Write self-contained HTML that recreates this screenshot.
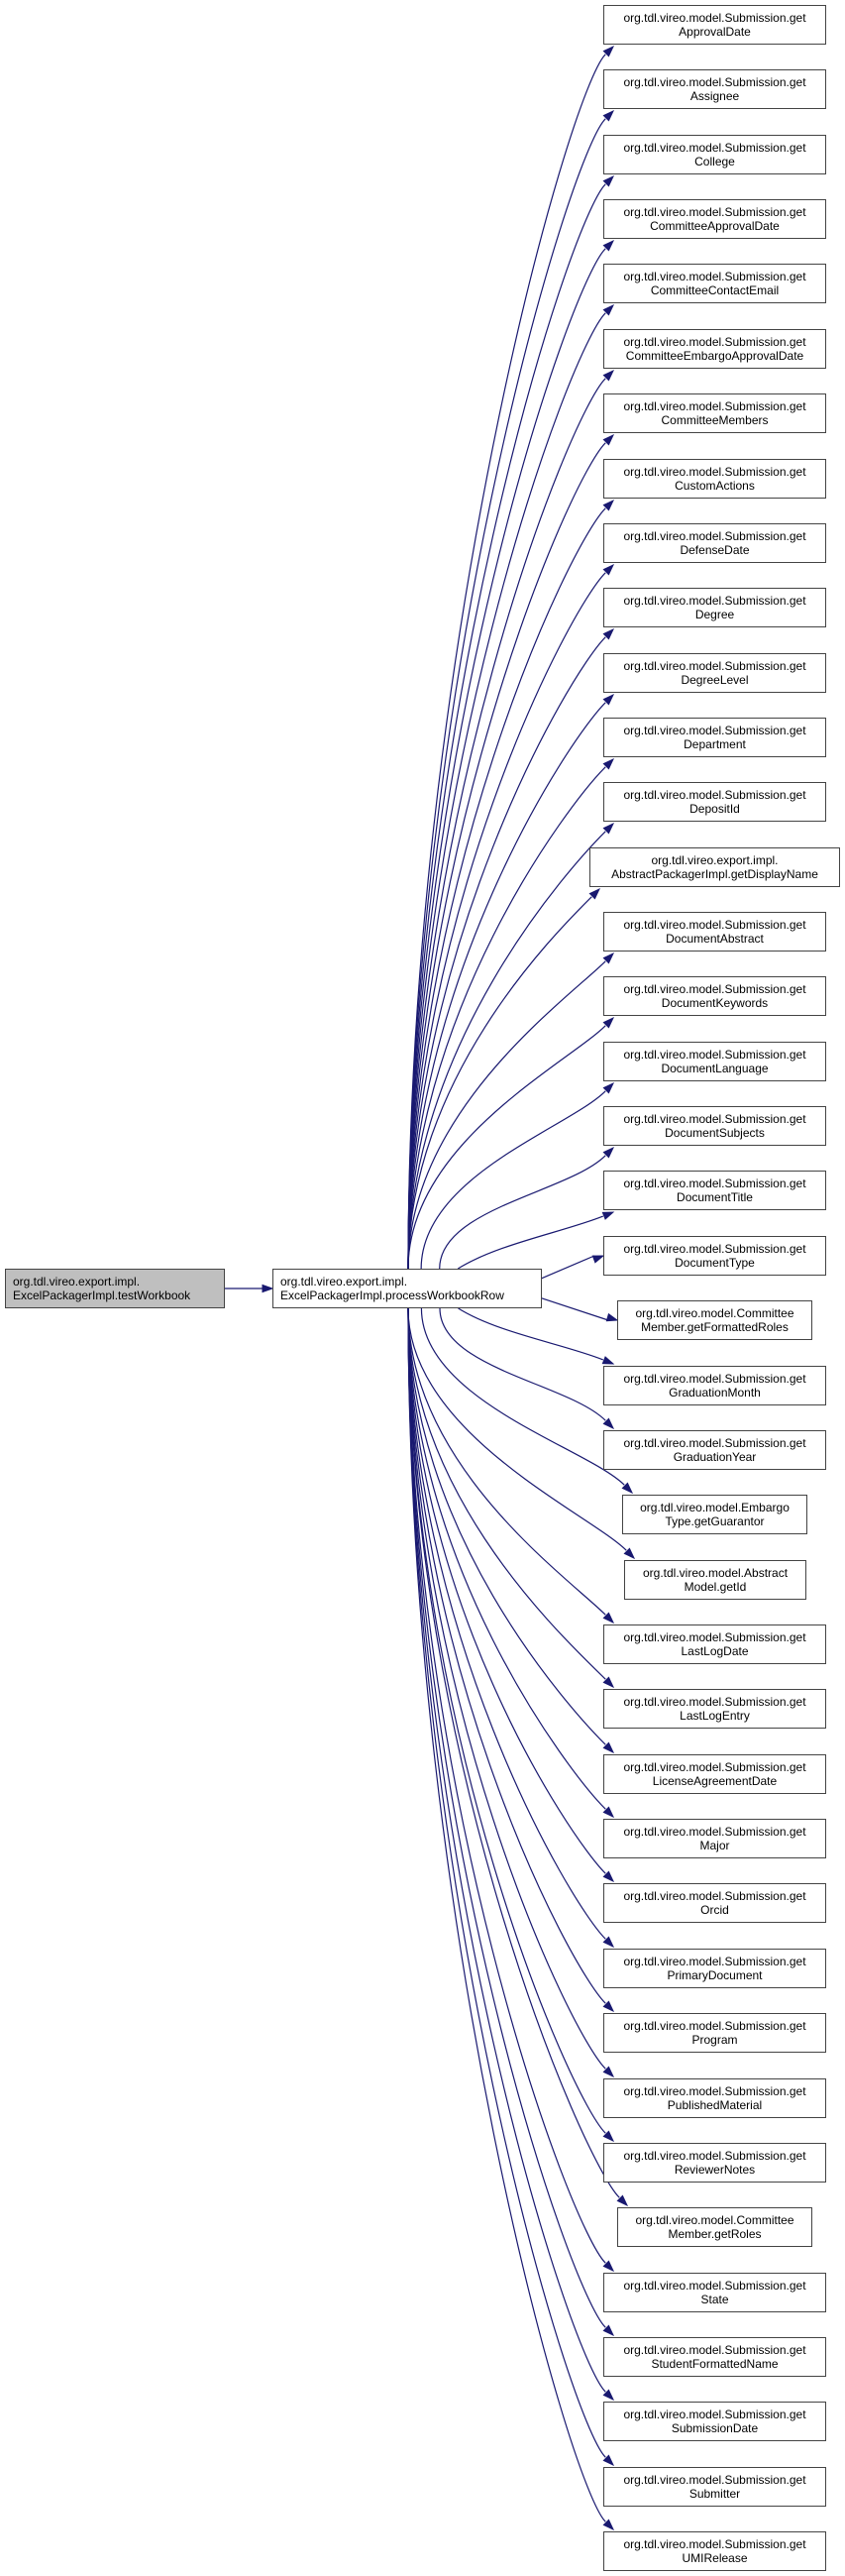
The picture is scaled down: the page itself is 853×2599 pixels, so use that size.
<!DOCTYPE html>
<html><head><meta charset="utf-8"><style>
body{margin:0;background:#fff;}
#c{position:relative;width:853px;height:2599px;overflow:hidden;}
.b{position:absolute;box-sizing:border-box;height:40px;border:1px solid #444;background:#fff;font-family:"Liberation Sans",Arial,sans-serif;font-size:12px;line-height:14px;text-align:center;padding-top:5px;color:#000;white-space:nowrap;}
.l{text-align:left;padding-left:7px;}
svg{position:absolute;left:0;top:0;}
</style></head><body><div id="c">
<svg id="s" width="853" height="2599"></svg>
<div class="b l" style="left:5px;top:1280px;width:222px;background:#bfbfbf;">org.tdl.vireo.export.impl.<br>ExcelPackagerImpl.testWorkbook</div>
<div class="b l" style="left:275px;top:1280px;width:272px;">org.tdl.vireo.export.impl.<br>ExcelPackagerImpl.processWorkbookRow</div>
<div id="boxes">
<div class="b">org.tdl.vireo.model.Submission.get<br>ApprovalDate</div>
<div class="b">org.tdl.vireo.model.Submission.get<br>Assignee</div>
<div class="b">org.tdl.vireo.model.Submission.get<br>College</div>
<div class="b">org.tdl.vireo.model.Submission.get<br>CommitteeApprovalDate</div>
<div class="b">org.tdl.vireo.model.Submission.get<br>CommitteeContactEmail</div>
<div class="b">org.tdl.vireo.model.Submission.get<br>CommitteeEmbargoApprovalDate</div>
<div class="b">org.tdl.vireo.model.Submission.get<br>CommitteeMembers</div>
<div class="b">org.tdl.vireo.model.Submission.get<br>CustomActions</div>
<div class="b">org.tdl.vireo.model.Submission.get<br>DefenseDate</div>
<div class="b">org.tdl.vireo.model.Submission.get<br>Degree</div>
<div class="b">org.tdl.vireo.model.Submission.get<br>DegreeLevel</div>
<div class="b">org.tdl.vireo.model.Submission.get<br>Department</div>
<div class="b">org.tdl.vireo.model.Submission.get<br>DepositId</div>
<div class="b">org.tdl.vireo.export.impl.<br>AbstractPackagerImpl.getDisplayName</div>
<div class="b">org.tdl.vireo.model.Submission.get<br>DocumentAbstract</div>
<div class="b">org.tdl.vireo.model.Submission.get<br>DocumentKeywords</div>
<div class="b">org.tdl.vireo.model.Submission.get<br>DocumentLanguage</div>
<div class="b">org.tdl.vireo.model.Submission.get<br>DocumentSubjects</div>
<div class="b">org.tdl.vireo.model.Submission.get<br>DocumentTitle</div>
<div class="b">org.tdl.vireo.model.Submission.get<br>DocumentType</div>
<div class="b">org.tdl.vireo.model.Committee<br>Member.getFormattedRoles</div>
<div class="b">org.tdl.vireo.model.Submission.get<br>GraduationMonth</div>
<div class="b">org.tdl.vireo.model.Submission.get<br>GraduationYear</div>
<div class="b">org.tdl.vireo.model.Embargo<br>Type.getGuarantor</div>
<div class="b">org.tdl.vireo.model.Abstract<br>Model.getId</div>
<div class="b">org.tdl.vireo.model.Submission.get<br>LastLogDate</div>
<div class="b">org.tdl.vireo.model.Submission.get<br>LastLogEntry</div>
<div class="b">org.tdl.vireo.model.Submission.get<br>LicenseAgreementDate</div>
<div class="b">org.tdl.vireo.model.Submission.get<br>Major</div>
<div class="b">org.tdl.vireo.model.Submission.get<br>Orcid</div>
<div class="b">org.tdl.vireo.model.Submission.get<br>PrimaryDocument</div>
<div class="b">org.tdl.vireo.model.Submission.get<br>Program</div>
<div class="b">org.tdl.vireo.model.Submission.get<br>PublishedMaterial</div>
<div class="b">org.tdl.vireo.model.Submission.get<br>ReviewerNotes</div>
<div class="b">org.tdl.vireo.model.Committee<br>Member.getRoles</div>
<div class="b">org.tdl.vireo.model.Submission.get<br>State</div>
<div class="b">org.tdl.vireo.model.Submission.get<br>StudentFormattedName</div>
<div class="b">org.tdl.vireo.model.Submission.get<br>SubmissionDate</div>
<div class="b">org.tdl.vireo.model.Submission.get<br>Submitter</div>
<div class="b">org.tdl.vireo.model.Submission.get<br>UMIRelease</div>
</div>
</div>
<script>
var ex={13:[595,847],20:[623,819],23:[628,814],24:[630,813],34:[623,819]};
var bs=document.querySelectorAll('#boxes .b');
var s=document.getElementById('s'),h='';
var C='#191970';
function arrow(x2,y2,x1,y1){var dx=x2-x1,dy=y2-y1,L=Math.sqrt(dx*dx+dy*dy);dx/=L;dy/=L;
var bx=x2-dx*10,by=y2-dy*10,px=-dy*3.6,py=dx*3.6;
return '<polygon points="'+x2+','+y2+' '+(bx+px)+','+(by+py)+' '+(bx-px)+','+(by-py)+'" fill="'+C+'" stroke="'+C+'"/>';}
for(var k=0;k<bs.length;k++){
 var t=Math.round(5+k*65.36),x0=609,x1=833;
 if(ex[k]){x0=ex[k][0];x1=ex[k][1];}
 var b=bs[k];b.style.left=x0+'px';b.style.top=t+'px';b.style.width=(x1-x0+1)+'px';
 var cy=t+20,dy=cy-1300,ad=Math.abs(dy);
 if(ad<70){
  var sy=1300+dy*0.3,ey=cy;
  h+='<path d="M546,'+sy+' L'+(x0-9)+','+ey+'" stroke="'+C+'" stroke-width="1.2" fill="none"/>'+arrow(x0,ey,546,sy);
 } else {
  var up=dy<0,sy=up?1280:1320,ey=up?t+42:t-2,exx=x0+10;
  var sx=412+Math.max(0,60-(ad-65)/3.5);
  var c1x=sx,c1y=sy+(ey-sy)*0.5,c2x=exx-45,c2y=ey+(up?45:-45);
  if(ad<150){c1x=sx+40;c1y=sy+(up?-25:25);c2x=exx-50;c2y=ey+(up?20:-20);}
  var L=11,dx=exx-c2x,dd=ey-c2y,n=Math.sqrt(dx*dx+dd*dd),px=exx-dx/n*L,py=ey-dd/n*L;
  h+='<path d="M'+sx+','+sy+' C'+c1x+','+c1y+' '+c2x+','+c2y+' '+px+','+py+'" stroke="'+C+'" stroke-width="1.2" fill="none"/>'+arrow(exx,ey,c2x,c2y);
 }
}
h+='<path d="M227,1300 L265,1300" stroke="'+C+'" stroke-width="1.2"/>'+arrow(275,1300,227,1300);
s.innerHTML=h;
</script>
</body></html>
